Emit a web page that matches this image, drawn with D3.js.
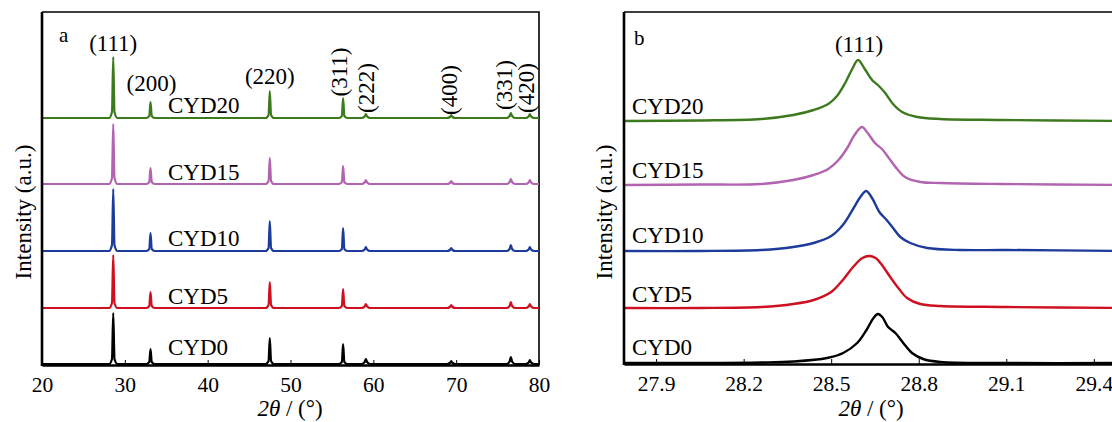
<!DOCTYPE html>
<meta charset="utf-8">
<script src="https://d3js.org/d3.v7.min.js"></script>
<style>
  body { margin: 0; background: #fff; }
  text { font-family: "Liberation Serif", "Times New Roman", serif; fill: #000; }
</style>
<div id="chart"></div>
<script>
// ---- data ----
var samples = ["CYD0", "CYD5", "CYD10", "CYD15", "CYD20"];
var colors = ["#000000", "#cf1020", "#1d3b9a", "#b264b0", "#3d7a1e"];

// panel a : full pattern, shared 2theta grid
var hklLabels = ["(111)", "(200)", "(220)", "(311)", "(222)", "(400)", "(331)", "(420)"];
var peakPos = [28.6, 33.1, 47.5, 56.35, 59.1, 69.4, 76.6, 78.9];
var ticksA = [20, 30, 40, 50, 60, 70, 80];
var twoThetaA = [20,
  28.1, 28.45, 28.6, 28.75, 29.1,
  32.6, 32.95, 33.1, 33.25, 33.6,
  47.0, 47.35, 47.5, 47.65, 48.0,
  55.85, 56.2, 56.35, 56.5, 56.85,
  58.6, 58.95, 59.1, 59.25, 59.6,
  68.9, 69.25, 69.4, 69.55, 69.9,
  76.1, 76.45, 76.6, 76.75, 77.1,
  78.4, 78.75, 78.9, 79.05, 79.4,
  80];
var cyd0A  = [0, 0,5,51,5,0, 0,2,15,2,0, 0,3,26,3,0, 0,2,20,2,0, 0,2,5,2,0, 0,1,3,1,0, 0,2.5,7,2.5,0, 0,1.5,4,1.5,0, 0];
var cyd5A  = [0, 0,5,53,5,0, 0,2,16,2,0, 0,3,26,3,0, 0,2,19,2,0, 0,1.5,4,1.5,0, 0,1,3,1,0, 0,2,6,2,0, 0,1.5,4,1.5,0, 0];
var cyd10A = [0, 0,6,62,6,0, 0,2,18,2,0, 0,3,30,3,0, 0,2,23,2,0, 0,1.5,4,1.5,0, 0,1,3,1,0, 0,2,6,2,0, 0,1.5,4,1.5,0, 0];
var cyd15A = [0, 0,6,60,6,0, 0,2,16,2,0, 0,3,26,3,0, 0,2,18,2,0, 0,1.5,4,1.5,0, 0,1,3,1,0, 0,2,5,2,0, 0,1.5,4,1.5,0, 0];
var cyd20A = [0, 0,6,61,6,0, 0,2,16,2,0, 0,3,27,3,0, 0,2,20,2,0, 0,1.5,4,1.5,0, 0,1,3,1,0, 0,2,5,2,0, 0,1.5,4,1.5,0, 0];
var offsetsA = [1, 57, 114, 181, 247];

// panel b : (111) zoom, [2theta, intensity] pairs
var ticksB = [27.9, 28.2, 28.5, 28.8, 29.1, 29.4];
var cyd0B = [[27.79,0],[28.05,0],[28.26,0.5],[28.37,1.5],[28.486,5],[28.541,10],[28.589,20],[28.623,34],[28.645,45],[28.66,49],[28.675,46],[28.695,36],[28.72,30],[28.747,20],[28.777,10],[28.815,4],[28.874,1],[29.1,0],[29.5,0]];
var cyd5B = [[27.79,0],[28.05,0],[28.26,1],[28.37,4],[28.44,8],[28.5,16],[28.54,28],[28.575,41],[28.607,50],[28.63,52],[28.652,50],[28.674,43],[28.7,32],[28.73,20],[28.76,10],[28.805,4],[28.874,2],[29.1,1],[29.5,0]];
var cyd10B = [[27.79,0],[28.05,0],[28.26,1],[28.37,4],[28.44,8],[28.5,15],[28.54,26],[28.575,42],[28.6,54],[28.62,60],[28.64,53],[28.665,39],[28.69,31],[28.712,23],[28.737,14],[28.771,8],[28.829,3],[28.942,1],[29.1,1],[29.5,0]];
var cyd15B = [[27.79,0],[28.05,0.5],[28.26,1],[28.37,5],[28.44,10],[28.49,16],[28.525,25],[28.555,37],[28.58,50],[28.605,58],[28.625,52],[28.65,42],[28.674,36],[28.695,28],[28.726,16],[28.753,8],[28.805,3],[28.874,2],[29.08,1],[29.5,0]];
var cyd20B = [[27.79,0],[28.05,0.5],[28.26,2],[28.37,6],[28.44,11],[28.49,17],[28.52,25],[28.548,38],[28.572,52],[28.592,61],[28.615,52],[28.64,41],[28.66,36],[28.685,28],[28.712,17],[28.743,9],[28.795,4],[28.874,2],[29.08,1],[29.5,0]];
var offsetsB = [1, 56, 113, 179, 243];

// ---- drawing ----
var W = 1112, H = 422;
var svg = d3.select("#chart").append("svg")
    .attr("width", W).attr("height", H);

function frame(x0, x1, yTop, yBot) {
  svg.append("path")
    .attr("d", "M" + x0 + "," + yTop + "H" + x1 + "V" + yBot)
    .attr("fill", "none").attr("stroke", "#000").attr("stroke-width", 1.6);
}

function xAxis(g, scale, ticks, fmt) {
  var ax = d3.axisBottom(scale).tickValues(ticks).tickFormat(fmt)
      .tickSizeInner(-5).tickSizeOuter(0).tickPadding(12);
  g.call(ax);
  g.selectAll("text").attr("font-size", 21.5);
  g.select(".domain").attr("stroke-width", 2.6);
  g.selectAll(".tick line").attr("stroke-width", 1);
}

function thetaTitle(cx) {
  var t = svg.append("text").attr("x", cx).attr("y", 416)
    .attr("text-anchor", "middle").attr("font-size", 23);
  t.append("tspan").attr("font-style", "italic").text("2θ");
  t.append("tspan").text(" / (°)");
}

function yTitle(xBase, cy) {
  svg.append("text")
    .attr("transform", "translate(" + xBase + "," + cy + ") rotate(-90)")
    .attr("text-anchor", "middle").attr("font-size", 23)
    .text("Intensity (a.u.)");
}

// panel a
var xA = d3.scaleLinear().domain([20, 80]).range([42, 539]);
var yA = d3.scaleLinear().domain([0, 353]).range([365, 12]);
var seriesA = [cyd0A, cyd5A, cyd10A, cyd15A, cyd20A];

frame(42, 539, 12, 365);

var lineA = d3.line().curve(d3.curveMonotoneX);
seriesA.forEach(function(vals, i) {
  var pts = twoThetaA.map(function(t, k) { return [xA(t), yA(vals[k] + offsetsA[i])]; });
  svg.append("path").attr("d", lineA(pts))
    .attr("fill", "none").attr("stroke", colors[i])
    .attr("stroke-width", 2.2).attr("stroke-linejoin", "round");
});

xAxis(svg.append("g").attr("transform", "translate(0,365)"), xA, ticksA, d3.format("d"));
svg.append("line").attr("x1", 42).attr("x2", 42).attr("y1", 12).attr("y2", 366)
  .attr("stroke", "#000").attr("stroke-width", 2.6);

// hkl labels: first three horizontal, rest rotated
var hklPlace = [
  {rot: false, dx: 0, y: 51},
  {rot: false, dx: 1, y: 91},
  {rot: false, dx: 0, y: 84},
  {rot: true, bx: 347, cy: 72},
  {rot: true, bx: 374, cy: 88},
  {rot: true, bx: 457, cy: 90},
  {rot: true, bx: 512, cy: 85},
  {rot: true, bx: 534, cy: 88}
];
hklLabels.forEach(function(lab, i) {
  var p = hklPlace[i];
  if (!p.rot) {
    svg.append("text").attr("x", xA(peakPos[i]) + p.dx).attr("y", p.y)
      .attr("text-anchor", "middle").attr("font-size", 23).text(lab);
  } else {
    svg.append("text")
      .attr("transform", "translate(" + p.bx + "," + p.cy + ") rotate(-90)")
      .attr("text-anchor", "middle").attr("font-size", 23).text(lab);
  }
});

var labelYA = [355, 304, 246, 180, 113];
samples.forEach(function(s, i) {
  svg.append("text").attr("x", 168).attr("y", labelYA[i])
    .attr("font-size", 23).text(s);
});
svg.append("text").attr("x", 59).attr("y", 42).attr("font-size", 21).text("a");
thetaTitle(290);
yTitle(31, 212);

// panel b
var xB = d3.scaleLinear().domain([27.79, 29.5]).range([624, 1123]);
var yB = d3.scaleLinear().domain([0, 352]).range([364, 12]);
var seriesB = [cyd0B, cyd5B, cyd10B, cyd15B, cyd20B];

frame(624, 1123, 12, 364);

var lineB = d3.line().curve(d3.curveCatmullRom.alpha(0.5));
seriesB.forEach(function(vals, i) {
  var pts = vals.map(function(d) { return [xB(d[0]), yB(d[1] + offsetsB[i])]; });
  svg.append("path").attr("d", lineB(pts))
    .attr("fill", "none").attr("stroke", colors[i])
    .attr("stroke-width", 2.4).attr("stroke-linejoin", "round");
});

xAxis(svg.append("g").attr("transform", "translate(0,364)"), xB, ticksB, d3.format(".1f"));
svg.append("line").attr("x1", 624).attr("x2", 624).attr("y1", 12).attr("y2", 365)
  .attr("stroke", "#000").attr("stroke-width", 2.6);

svg.append("text").attr("x", 859).attr("y", 52)
  .attr("text-anchor", "middle").attr("font-size", 23).text("(111)");

var labelYB = [355, 302, 243, 178, 114];
samples.forEach(function(s, i) {
  svg.append("text").attr("x", 632).attr("y", labelYB[i])
    .attr("font-size", 23).text(s);
});
svg.append("text").attr("x", 634).attr("y", 45).attr("font-size", 21).text("b");
thetaTitle(871);
yTitle(612, 212);
</script>
